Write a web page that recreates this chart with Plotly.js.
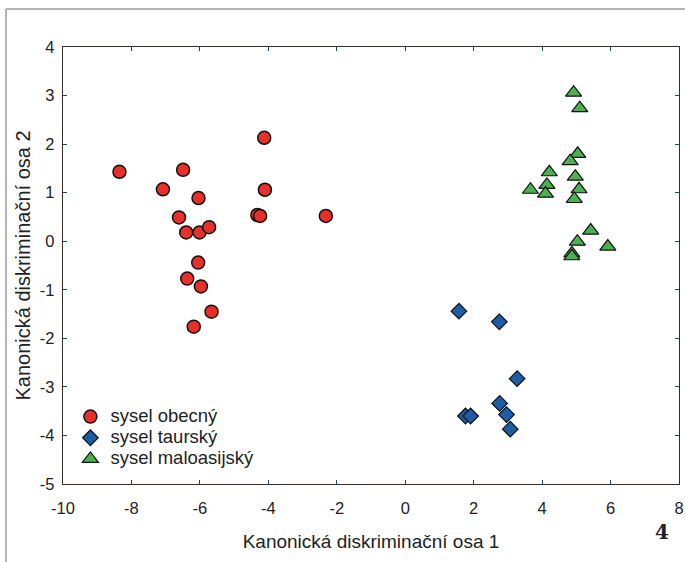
<!DOCTYPE html>
<html>
<head>
<meta charset="utf-8">
<script src="https://cdn.plot.ly/plotly-3.0.1.min.js"></script>
<style>html,body{margin:0;padding:0;background:#fff;}#chart{width:685px;height:562px;}</style>
</head>
<body>
<div id="chart"></div>
<script>
// sysel obecný (red circles)
var obecnyX = [-8.35, -6.49, -7.08, -4.12, -4.10, -6.04, -6.61, -4.32, -4.24, -2.32, -6.40, -6.01, -5.73, -6.05, -6.37, -5.97, -5.66, -6.18];
var obecnyY = [1.43, 1.47, 1.07, 2.13, 1.06, 0.89, 0.49, 0.54, 0.52, 0.52, 0.18, 0.18, 0.29, -0.44, -0.77, -0.93, -1.45, -1.76];
// sysel taurský (blue diamonds)
var taurskyX = [1.57, 2.75, 3.27, 2.76, 1.76, 1.91, 2.96, 3.07];
var taurskyY = [-1.44, -1.66, -2.83, -3.34, -3.60, -3.60, -3.57, -3.87];
// sysel maloasijský (green triangles)
var maloX = [4.92, 5.10, 5.04, 4.82, 4.21, 4.97, 4.14, 3.66, 4.10, 5.08, 4.94, 5.42, 5.03, 5.92, 4.87, 4.87];
var maloY = [3.06, 2.74, 1.80, 1.65, 1.42, 1.33, 1.16, 1.06, 0.98, 1.07, 0.87, 0.22, -0.01, -0.11, -0.25, -0.31];

var seriesNames = ['sysel obecný', 'sysel taurský', 'sysel maloasijský'];
var xTicks = [-10, -8, -6, -4, -2, 0, 2, 4, 6, 8];
var yTicks = [-5, -4, -3, -2, -1, 0, 1, 2, 3, 4];

var font = 'Liberation Sans, Arial, Helvetica, sans-serif';
function legendName(s) { return '<span style="font-size:18.5px">' + s + '</span>'; }

var traces = [
  {x: obecnyX, y: obecnyY, name: legendName(seriesNames[0]), mode: 'markers', type: 'scatter',
   marker: {symbol: 'circle', size: 13, color: '#e8302a', line: {color: '#111', width: 1.5}}},
  {x: taurskyX, y: taurskyY, name: legendName(seriesNames[1]), mode: 'markers', type: 'scatter',
   marker: {symbol: 'diamond', size: 12, color: '#1f5ca6', line: {color: '#111', width: 1.2}}},
  {x: maloX, y: maloY, name: legendName(seriesNames[2]), mode: 'markers', type: 'scatter',
   marker: {symbol: 'triangle-up', size: 14, color: '#4caf50', line: {color: '#111', width: 1.2}}}
];

var axisCommon = {
  showgrid: false, zeroline: false, showline: true, linecolor: '#3a2a28', linewidth: 1.3,
  mirror: 'ticks', ticks: 'inside', ticklen: 4, tickcolor: '#1a4a5a', tickwidth: 1,
  tickfont: {family: font, size: 16.5, color: '#222'}
};

var layout = {
  width: 685, height: 562,
  margin: {l: 63, r: 6, t: 47, b: 78},
  paper_bgcolor: '#fff', plot_bgcolor: '#fff',
  font: {family: font, color: '#222'},
  showlegend: true,
  legend: {x: 0.012, y: 0.19, xanchor: 'left', yanchor: 'top', bgcolor: 'rgba(0,0,0,0)',
           font: {family: font, size: 14, color: '#222'}, itemwidth: 30, tracegroupgap: 0},
  xaxis: Object.assign({}, axisCommon, {
    range: [-10, 8], tickmode: 'array', tickvals: xTicks, ticktext: xTicks.map(String),
    ticklabelstandoff: 9,
    title: {text: 'Kanonická diskriminační osa 1', font: {family: font, size: 19, color: '#222'}, standoff: 18}
  }),
  yaxis: Object.assign({}, axisCommon, {
    range: [-5, 4], tickmode: 'array', tickvals: yTicks, ticktext: yTicks.map(String),
    ticklabelstandoff: 4,
    title: {text: 'Kanonická diskriminační osa 2', font: {family: font, size: 20, color: '#222'}, standoff: 3}
  }),
  shapes: [
    {type: 'line', xref: 'paper', yref: 'paper', x0: -0.0925, x1: 1.02, y0: 1.087, y1: 1.087,
     line: {color: '#9a9a9a', width: 1.5}},
    {type: 'line', xref: 'paper', yref: 'paper', x0: -0.0925, x1: -0.0925, y0: 1.087, y1: -0.2,
     line: {color: '#9a9a9a', width: 1.5}}
  ],
  annotations: [
    {text: '<b>4</b>', xref: 'paper', yref: 'paper', x: 0.9724, y: -0.1098, xanchor: 'center', yanchor: 'middle',
     showarrow: false, font: {family: 'DejaVu Serif, Liberation Serif, serif', size: 20, color: '#222'}}
  ]
};

Plotly.newPlot('chart', traces, layout, {displayModeBar: false, staticPlot: true});
</script>
</body>
</html>
